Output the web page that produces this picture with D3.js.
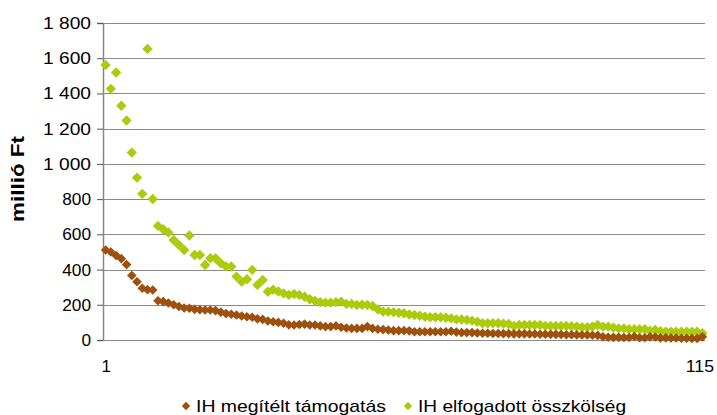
<!DOCTYPE html>
<html>
<head>
<meta charset="utf-8">
<script src="https://cdn.jsdelivr.net/npm/d3@7"></script>
<style>
  body { margin: 0; background: #fff; }
  svg { display: block; font-family: Arial, "Liberation Sans", sans-serif; }
</style>
</head>
<body>
<svg id="chart" width="717" height="415"></svg>
<script>
// project index (1..115) on the category axis
var categories = d3.range(1, 116);
var xTickLabels = [1, 115];
var yTicks = [0, 200, 400, 600, 800, 1000, 1200, 1400, 1600, 1800];

var seriesNames = ["IH megítélt támogatás", "IH elfogadott összkölség"];

// IH megítélt támogatás (millió Ft)
var tamogatas = [
  511, 500, 480, 462, 428, 366, 331, 294, 286, 284,
  223, 218, 210, 200, 190, 182, 180, 174, 172, 170,
  170, 167, 158, 150, 146, 142, 136, 132, 129, 120,
  117, 108, 104, 100, 95, 86, 85, 88, 90, 85,
  85, 80, 76, 76, 80, 72, 68, 66, 66, 66,
  76, 66, 61, 59, 57, 53, 53, 53, 52, 47,
  47, 47, 47, 47, 47, 47, 50, 45, 42, 42,
  42, 40, 38, 38, 37, 37, 36, 36, 35, 35,
  35, 34, 34, 33, 33, 32, 32, 31, 30, 30,
  29, 28, 28, 27, 26, 18, 16, 15, 15, 14,
  14, 20, 13, 13, 18, 17, 12, 12, 11, 11,
  10, 10, 9, 9, 18
];

// IH elfogadott összkölség (millió Ft)
var osszkoltseg = [
  1562, 1426, 1519, 1330, 1246, 1064, 922, 830, 1653, 801,
  648, 629, 610, 568, 540, 511, 593, 483, 483, 426,
  464, 464, 436, 417, 417, 360, 331, 345, 398, 313,
  341, 274, 285, 275, 265, 256, 261, 256, 246, 231,
  222, 215, 212, 212, 215, 218, 205, 205, 199, 200,
  199, 193, 174, 161, 161, 158, 155, 152, 145, 142,
  138, 132, 129, 129, 129, 126, 123, 117, 116, 114,
  110, 104, 95, 95, 95, 95, 93, 91, 80, 85,
  85, 85, 85, 85, 80, 80, 80, 80, 80, 78,
  76, 72, 72, 76, 85, 76, 76, 70, 66, 66,
  61, 61, 61, 61, 53, 57, 50, 47, 47, 47,
  47, 47, 47, 47, 38
];

var colors = ["#9e500e", "#abcb0c"];

var svg = d3.select("#chart");
var plot = { left: 103, right: 705, top: 23, bottom: 340 };

var x = d3.scalePoint()
    .domain(categories)
    .range([plot.left, plot.right])
    .padding(0.5);

var y = d3.scaleLinear()
    .domain([0, 1800])
    .range([plot.bottom, plot.top]);

var huFormat = d3.formatLocale({
    decimal: ",", thousands: " ", grouping: [3], currency: ["", ""]
}).format(",");

// horizontal gridlines
svg.append("g")
    .selectAll("line")
    .data(yTicks)
    .enter()
    .append("line")
    .attr("x1", plot.left)
    .attr("x2", plot.right)
    .attr("y1", function(d) { return Math.round(y(d)) + 0.5; })
    .attr("y2", function(d) { return Math.round(y(d)) + 0.5; })
    .style("stroke", "#8a8a8a")
    .style("stroke-width", 1);

// y axis
var yAxis = svg.append("g")
    .attr("transform", "translate(" + plot.left + ",0)")
    .call(d3.axisLeft(y).tickValues(yTicks).tickSize(6).tickPadding(6).tickFormat(huFormat));
yAxis.select(".domain").style("stroke", "#868686").style("stroke-width", 1.5);
yAxis.selectAll(".tick line").style("stroke", "#555");
yAxis.selectAll(".tick text")
    .style("font-family", "Arial, 'Liberation Sans', sans-serif")
    .style("font-size", "17px")
    .style("fill", "#000")
    .attr("textLength", function(d) { return huFormat(d).length * 9.6; })
    .attr("lengthAdjust", "spacingAndGlyphs");

// x axis, only first and last category labelled
var xAxis = svg.append("g")
    .attr("transform", "translate(0," + plot.bottom + ")")
    .call(d3.axisBottom(x).tickValues(xTickLabels).tickSize(0).tickPadding(20));
xAxis.select(".domain").remove();
xAxis.selectAll(".tick text")
    .style("font-family", "Arial, 'Liberation Sans', sans-serif")
    .style("font-size", "17px")
    .style("fill", "#000")
    .attr("textLength", function(d) { return String(d).length * 9.4; })
    .attr("lengthAdjust", "spacingAndGlyphs");
xAxis.selectAll(".tick")
    .filter(function(d) { return d === 115; })
    .select("text")
    .attr("dx", -3);

// y axis title
svg.append("text")
    .attr("transform", "translate(24," + 179 + ") rotate(-90)")
    .attr("text-anchor", "middle")
    .attr("textLength", 86)
    .attr("lengthAdjust", "spacingAndGlyphs")
    .style("font-size", "18px")
    .style("font-weight", "bold")
    .text("millió Ft");

function diamond(r) {
    return "M0," + (-r) + "L" + r + ",0L0," + r + "L" + (-r) + ",0Z";
}

// markers: the cost series first, the support series on top
[[osszkoltseg, 1, 5.2], [tamogatas, 0, 4.8]].forEach(function(s) {
    svg.append("g")
        .selectAll("path")
        .data(s[0])
        .enter()
        .append("path")
        .attr("d", diamond(s[2]))
        .attr("transform", function(d, i) {
            return "translate(" + x(categories[i]) + "," + y(d) + ")";
        })
        .style("fill", colors[s[1]]);
});

// legend
var legendX = [186, 408];
var legendW = [190, 208];
var legend = svg.append("g")
    .selectAll("g")
    .data(seriesNames)
    .enter()
    .append("g")
    .attr("transform", function(d, i) { return "translate(" + legendX[i] + ",406)"; });

legend.append("path")
    .attr("d", diamond(4.2))
    .style("fill", function(d, i) { return colors[i]; });

legend.append("text")
    .attr("x", 10)
    .attr("y", 6)
    .attr("textLength", function(d, i) { return legendW[i]; })
    .attr("lengthAdjust", "spacingAndGlyphs")
    .style("font-size", "17px")
    .text(function(d) { return d; });
</script>
</body>
</html>
